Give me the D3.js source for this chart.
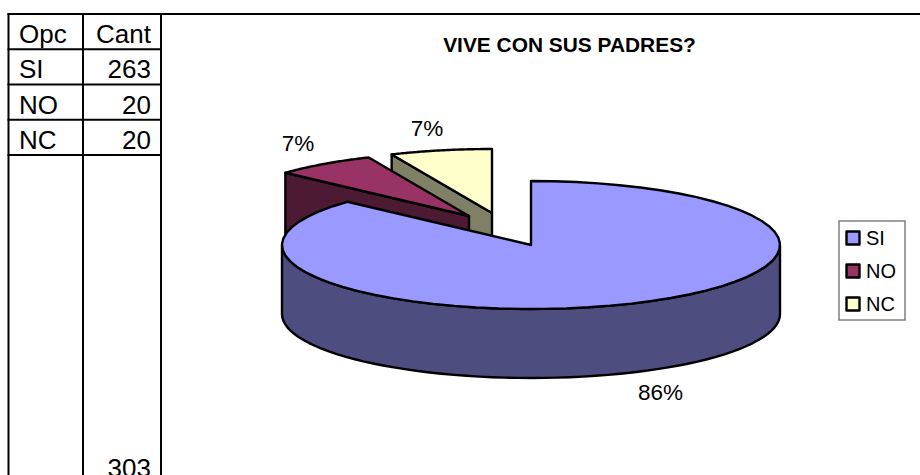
<!DOCTYPE html>
<html><head><meta charset="utf-8">
<script src="https://cdn.jsdelivr.net/npm/d3@7"></script>
<style>html,body{margin:0;padding:0;background:#fff}svg{display:block}text{font-family:"Liberation Sans",Arial,sans-serif;fill:#000}</style>
</head><body><svg id="c" width="920" height="475"></svg>
<script>
const categories = ["SI","NO","NC"];
const values = [263,20,20];
const total = 303;
const percentLabels = ["86%","7%","7%"];
const colors = ["#9999FF","#993366","#FFFFCC"];
const headers = ["Opc","Cant"];
const title = "VIVE CON SUS PADRES?";

const svg = d3.select("#c");
// table
const colLines = [8.5,83,161];
const rowY = d3.scaleLinear().domain([0,4]).range([14,155]);
[0,1,2,3,4].forEach(i=>svg.append("line").attr("x1",7.5).attr("x2",i===0?920:162).attr("y1",rowY(i)).attr("y2",rowY(i)).attr("stroke","#000").attr("stroke-width",2));
colLines.forEach(x=>svg.append("line").attr("x1",x).attr("x2",x).attr("y1",13).attr("y2",475).attr("stroke","#000").attr("stroke-width",2));
const cellFont = 26;
const cell = (t,x,y,anchor)=>svg.append("text").attr("x",x).attr("y",y).attr("text-anchor",anchor).attr("font-size",cellFont).text(t);
cell(headers[0],19,43,"start");
cell(headers[1],151,43,"end");
categories.forEach((c,i)=>{
  const y = rowY(i+1)+29;
  cell(c,19,y,"start");
  cell(values[i],151,y,"end");
});
cell(total,151,477,"end");

// title
svg.append("text").attr("x",569.5).attr("y",52).attr("text-anchor","middle").attr("font-size",20.9).attr("font-weight","bold").text(title);

// pie
const cx=531, cy=245, rx=249, ry=64, depth=69;
const offsets=[[0,0],[-62,-29],[-39,-32]];
const labelPos=[[660.5,400],[298,151],[427,136]];
const pie = d3.pie().sort(null).startAngle(0).endAngle(2*Math.PI)(values);
const pt=(a,o,dz=0)=>[cx+o[0]+rx*Math.sin(a), cy+o[1]-ry*Math.cos(a)+dz];
const line=d3.line();
const arcPts=(a0,a1,o,dz)=>d3.range(0,61).map(k=>pt(a0+(a1-a0)*k/60,o,dz));
const dark=c=>{const r=d3.rgb(c);return d3.rgb(r.r*.5,r.g*.5,r.b*.5).formatHex();};
const sty=(s,f)=>s.attr("fill",f).attr("stroke","#000").attr("stroke-width",2.4).attr("stroke-linejoin","round");
const drawTop=(d,o,c)=>{
  const p=[[cx+o[0],cy+o[1]],...arcPts(d.startAngle,d.endAngle,o,0)];
  sty(svg.append("path").attr("d",line(p)+"Z"),c);
};
// back slices first, drawn last-to-first so the SI slice lies on top
[2,1].forEach(i=>{
  const d=pie[i],o=offsets[i];
  const a=pt(d.startAngle,o,0),b=[cx+o[0],cy+o[1]];
  sty(svg.append("path").attr("d",line([a,b,[b[0],b[1]+depth],[a[0],a[1]+depth]])+"Z"),dark(colors[i]));
  drawTop(d,o,colors[i]);
});
// SI: front wall then top
const s=pie[0],o0=offsets[0];
const wall=[...arcPts(Math.PI/2,Math.min(s.endAngle,3*Math.PI/2),o0,0),...arcPts(Math.min(s.endAngle,3*Math.PI/2),Math.PI/2,o0,depth)];
sty(svg.append("path").attr("d",line(wall)+"Z"),dark(colors[0]));
drawTop(s,o0,colors[0]);

percentLabels.forEach((t,i)=>svg.append("text").attr("x",labelPos[i][0]).attr("y",labelPos[i][1]).attr("text-anchor","middle").attr("font-size",22.5).text(t));

// legend
svg.append("rect").attr("x",839).attr("y",221).attr("width",66).attr("height",99).attr("fill","#fff").attr("stroke","#808080").attr("stroke-width",1.5);
const legY=d3.scalePoint().domain(categories).range([238,304]);
categories.forEach((c,i)=>{
  sty(svg.append("rect").attr("x",846.5).attr("y",legY(c)-6.5).attr("width",13).attr("height",13),colors[i]);
  svg.append("text").attr("x",866).attr("y",legY(c)+7).attr("font-size",20).text(c);
});
</script></body></html>
